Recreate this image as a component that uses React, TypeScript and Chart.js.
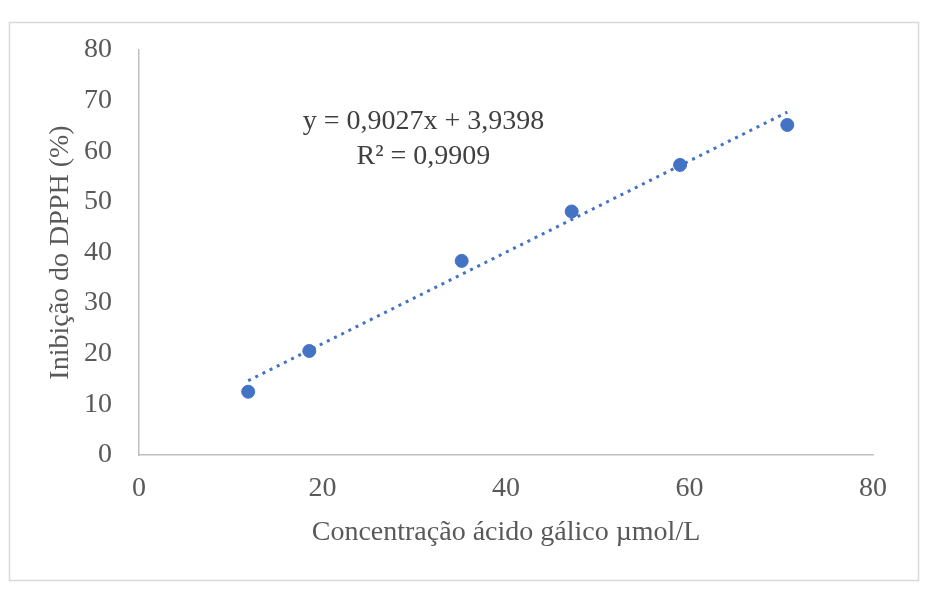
import React, { useEffect, useRef } from "react";
import { Chart, registerables } from "chart.js";

Chart.register(...registerables);

const concentrations = [11.9, 18.56, 35.17, 47.16, 58.97, 70.66];
const inhibition = [12.5, 20.55, 38.34, 48.1, 57.3, 65.2];
const slope = 0.9027;
const intercept = 3.9398;
const equationLines = ["y = 0,9027x + 3,9398", "R² = 0,9909"];
const xTitle = "Concentração ácido gálico µmol/L";
const yTitle = "Inibição do DPPH (%)";

const FONT = "'Liberation Serif', 'Times New Roman', serif";
const TEXT = "#595959";
const BLUE = "#4472C4";
const FS = 28;

export default function App() {
  const ref = useRef<HTMLCanvasElement | null>(null);

  useEffect(() => {
    if (!ref.current) return;
    const xMin = Math.min(...concentrations);
    const xMax = Math.max(...concentrations);
    const trend = [xMin, xMax].map((x) => ({ x, y: slope * x + intercept }));

    const framePlugin = {
      id: "frame",
      beforeDraw(chart: any) {
        const ctx = chart.ctx;
        ctx.save();
        ctx.fillStyle = "#ffffff";
        ctx.fillRect(0, 0, chart.width, chart.height);
        ctx.strokeStyle = "#d9d9d9";
        ctx.lineWidth = 1.5;
        ctx.strokeRect(9.5, 22.5, 909, 558);
        ctx.restore();
      },
    };

    const equationPlugin = {
      id: "equation",
      afterDatasetsDraw(chart: any) {
        const ctx = chart.ctx;
        const xs = chart.scales.x;
        const ys = chart.scales.y;
        ctx.save();
        ctx.font = `${FS}px ${FONT}`;
        ctx.fillStyle = "#404040";
        ctx.textAlign = "center";
        ctx.textBaseline = "middle";
        ctx.fillText(equationLines[0], xs.getPixelForValue(31.0), ys.getPixelForValue(65.8));
        ctx.fillText(equationLines[1], xs.getPixelForValue(31.0), ys.getPixelForValue(58.9));
        ctx.restore();
      },
    };

    const chart = new Chart(ref.current, {
      type: "scatter",
      data: {
        datasets: [
          {
            label: "Inibição",
            data: concentrations.map((x, i) => ({ x, y: inhibition[i] })),
            backgroundColor: BLUE,
            borderColor: BLUE,
            pointRadius: 6.5,
            pointHoverRadius: 6.5,
            order: 1,
          },
          {
            label: "Linear",
            type: "line",
            data: trend,
            borderColor: BLUE,
            borderWidth: 3,
            borderDash: [3, 5],
            pointRadius: 0,
            fill: false,
            order: 2,
          } as any,
        ],
      },
      options: {
        animation: false,
        responsive: false,
        maintainAspectRatio: false,
        layout: { padding: { left: 0, right: 52, top: 50, bottom: 0 } },
        plugins: { legend: { display: false }, tooltip: { enabled: false } },
        scales: {
          x: {
            type: "linear",
            min: 0,
            max: 80,
            ticks: { stepSize: 20, color: TEXT, font: { family: FONT, size: FS }, padding: 17 },
            grid: { display: false, drawTicks: false },
            border: { display: true, color: "#bfbfbf", width: 1.5 },
            title: {
              display: true,
              text: xTitle,
              color: TEXT,
              font: { family: FONT, size: FS },
              padding: { top: 0, bottom: 43 },
            },
            afterFit(scale: any) {
              scale.height = 137;
            },
          },
          y: {
            type: "linear",
            min: 0,
            max: 80,
            ticks: { stepSize: 10, color: TEXT, font: { family: FONT, size: FS }, padding: 27 },
            grid: { display: false, drawTicks: false },
            border: { display: true, color: "#bfbfbf", width: 1.5 },
            title: {
              display: true,
              text: yTitle,
              color: TEXT,
              font: { family: FONT, size: FS },
              padding: { top: 44, bottom: 0 },
            },
            afterFit(scale: any) {
              scale.width = 139;
            },
          },
        },
      },
      plugins: [framePlugin, equationPlugin],
    });
    return () => chart.destroy();
  }, []);

  return (
    <div style={{ position: "absolute", left: 0, top: 0, width: 925, height: 592 }}>
      <canvas ref={ref} width={925} height={592} style={{ width: 925, height: 592 }} />
    </div>
  );
}
